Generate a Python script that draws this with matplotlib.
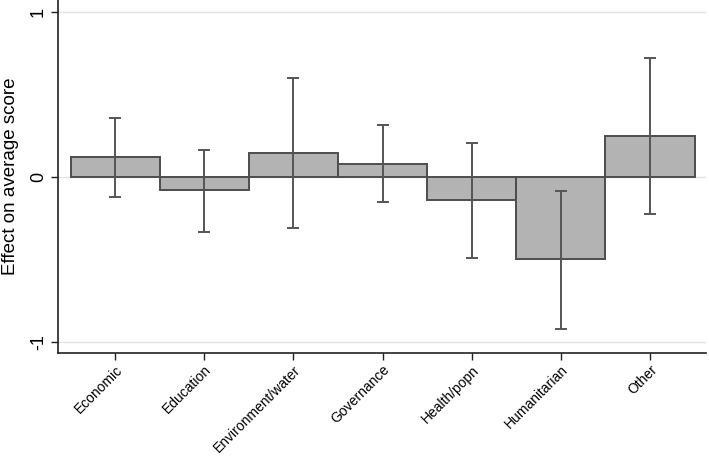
import matplotlib
matplotlib.use("Agg")
import matplotlib.pyplot as plt
import numpy as np

plt.rcParams['font.family'] = ['Liberation Sans', 'DejaVu Sans']

categories = ["Economic", "Education", "Environment/water", "Governance",
              "Health/popn", "Humanitarian", "Other"]
effects = [0.123, -0.079, 0.144, 0.079, -0.137, -0.499, 0.248]
ci_upper = [0.36, 0.168, 0.60, 0.315, 0.208, -0.081, 0.723]
ci_lower = [-0.123, -0.333, -0.311, -0.153, -0.487, -0.923, -0.226]
yticks = [-1, 0, 1]

fig = plt.figure(figsize=(7.09, 4.58), dpi=100)
ax = fig.add_axes([0.082, 0.229, 0.914, 0.771])

x = np.arange(len(categories))
eff = np.array(effects)
yerr = np.vstack([eff - np.array(ci_lower), np.array(ci_upper) - eff])

for yt in yticks:
    ax.axhline(yt, color='#e3e3e3', lw=1.0, zorder=0)

ax.bar(x, eff, width=1.0, color='#b3b3b3', edgecolor='#4d4d4d', linewidth=1.4, zorder=2)
ax.errorbar(x, eff, yerr=yerr, fmt='none', ecolor='#555555', elinewidth=1.4,
            capsize=4.0, capthick=1.4, zorder=3)

ax.set_xlim(-0.64, 6.63)
ax.set_ylim(-1.067, 1.075)
ax.set_yticks(yticks)
ax.set_yticklabels([str(v) for v in yticks], rotation=90, va='center', fontsize=13)
ax.set_xticks(x)
ax.set_xticklabels(categories, rotation=45, ha='right', rotation_mode='anchor', fontsize=10)
ax.set_ylabel("Effect on average score", fontsize=13.5, labelpad=8)

for s in ['top', 'right']:
    ax.spines[s].set_visible(False)
for s in ['left', 'bottom']:
    ax.spines[s].set_color('#222222')
    ax.spines[s].set_linewidth(1.2)
ax.tick_params(axis='both', length=5, width=1.0, color='#222222', pad=3)
ax.tick_params(axis='x', pad=2)

fig.savefig("out.png", dpi=100)
